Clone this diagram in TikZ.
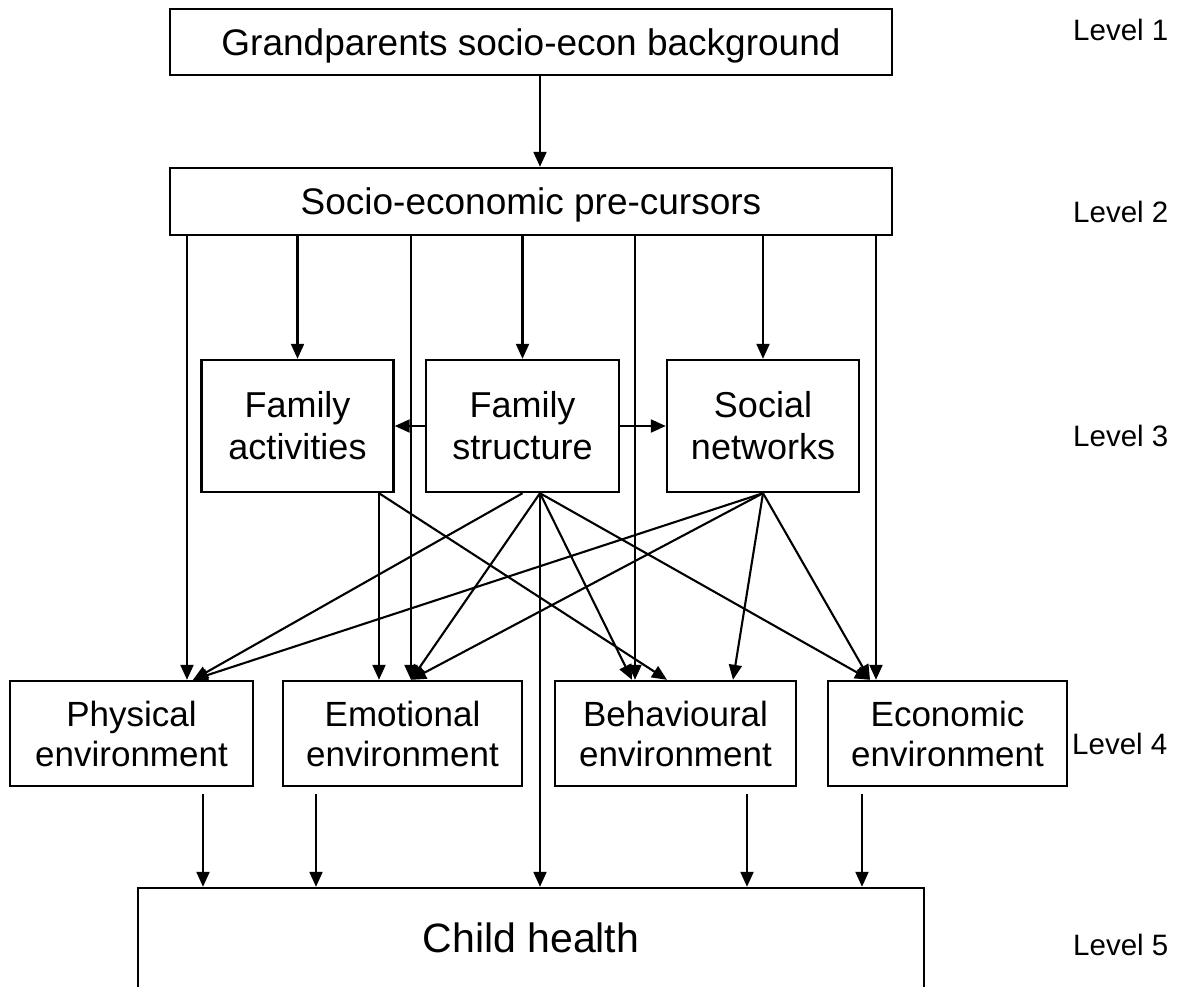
\documentclass[tikz,border=0pt]{standalone}
\usepackage{fontspec}
\setmainfont{Liberation Sans}
\usetikzlibrary{arrows.meta}

\begin{document}
\begin{tikzpicture}[x=1pt,y=-1pt,
  box/.style={draw,line width=2.4pt,inner sep=0pt,align=center,font=\fontsize{36}{42}\selectfont},
  wide/.style={box,minimum width=722pt,text depth=0pt,font=\fontsize{37}{44}\selectfont},
  mid/.style={box,minimum width=192pt,minimum height=132pt},
  env/.style={box,minimum width=240pt,minimum height=105pt,font=\fontsize{35}{40}\selectfont},
  lvl/.style={anchor=west,inner sep=0pt,font=\fontsize{29.5}{34}\selectfont},
  arr/.style={line width=2.1pt,-{Triangle[length=15pt,width=13pt]}}]
\useasboundingbox (0,0) rectangle (1182,986);
\clip (0,0) rectangle (1182,986);

% boxes
\node[wide,minimum height=66pt] (gp) at (531,42) {Grandparents socio-econ background};
\node[wide,minimum height=67pt] (sep) at (531,201.5) {Socio-economic pre-cursors};
\node[mid] (fa) at (297.5,426) {Family\\activities};
\node[mid,minimum width=193pt] (fs) at (522.5,426) {Family\\structure};
\node[mid] (sn) at (763,426) {Social\\networks};
\node[env,minimum width=243pt] (phys) at (131.5,733.5) {Physical\\environment};
\node[env,minimum width=239pt] (emo) at (402.5,733.5) {Emotional\\environment};
\node[env,minimum width=241pt] (beh) at (675.5,733.5) {Behavioural\\environment};
\node[env,minimum width=239pt] (eco) at (947.5,733.5) {Economic\\environment};
\node[box,minimum width=786pt,minimum height=100pt,font=\fontsize{41}{48}\selectfont] (ch) at (531,938) {Child health};

% level labels
\node[lvl] (l1) at (1073,30) {Level 1};
\node[lvl] (l2) at (1073,212) {Level 2};
\node[lvl] (l3) at (1073,436) {Level 3};
\node[lvl] (l4) at (1072,744) {Level 4};
\node[lvl] (l5) at (1073,945) {Level 5};

% columns used by the connectors
\foreach \c in {187,193,203,316,379,411,540,632,635,667,733,747,862,870,876}
  \coordinate (c\c) at (\c,0);
\foreach \c in {203,316,747,862}
  \coordinate (o\c) at (\c,794);

% level 1 -> level 2
\draw[arr] (gp.south -| c540) -- (sep.north -| c540);

% level 2 -> levels 3 and 4
\draw[arr] (sep.south -| c187) -- (phys.north -| c187);
\draw[arr] (sep.south -| fa) -- (fa.north);
\draw[arr] (sep.south -| c411) -- (emo.north -| c411);
\draw[arr] (sep.south -| fs) -- (fs.north);
\draw[arr] (sep.south -| c635) -- (beh.north -| c635);
\draw[arr] (sep.south -| sn) -- (sn.north);
\draw[arr] (sep.south -| c876) -- (eco.north -| c876);

% within level 3
\draw[arr] (fs.west) -- (fa.east);
\draw[arr] (fs.east) -- (sn.west);

% level 3 -> level 4
\draw[arr] (fs.south) -- (phys.north -| c193);
\draw[arr] (sn.south) -- (phys.north -| c193);
\draw[arr] (fa.south -| c379) -- (emo.north -| c379);
\draw[arr] (fs.south -| c540) -- (emo.north -| c411);
\draw[arr] (sn.south) -- (emo.north -| c411);
\draw[arr] (fs.south -| c540) -- (beh.north -| c632);
\draw[arr] (fa.south -| c379) -- (beh.north -| c667);
\draw[arr] (sn.south) -- (beh.north -| c733);
\draw[arr] (fs.south -| c540) -- (eco.north -| c870);
\draw[arr] (sn.south) -- (eco.north -| c870);

% levels 3 and 4 -> level 5
\draw[arr] (fs.south -| c540) -- (ch.north -| c540);
\draw[arr] (o203) -- (ch.north -| c203);
\draw[arr] (o316) -- (ch.north -| c316);
\draw[arr] (o747) -- (ch.north -| c747);
\draw[arr] (o862) -- (ch.north -| c862);
\end{tikzpicture}
\end{document}
